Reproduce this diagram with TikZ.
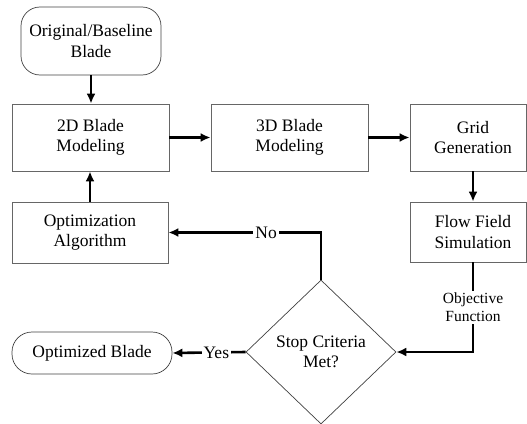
\documentclass[tikz,border=0pt]{standalone}
\usepackage{fontspec}
\setmainfont{Liberation Serif}
\usetikzlibrary{shapes.geometric,arrows.meta}
\begin{document}
\begin{tikzpicture}[x=1pt,y=-1pt,
  every node/.style={font=\fontsize{17.5}{20.5}\selectfont, align=center},
  box/.style={draw=black!60, line width=0.8pt, rectangle, inner sep=0pt},
  term/.style={draw=black!75, line width=0.7pt, rounded corners=19pt, inner sep=0pt},
  dec/.style={draw=black!75, line width=0.7pt, diamond, inner sep=0pt, minimum width=150pt, minimum height=144pt},
  flow/.style={line width=2.6pt, -{Latex[length=10pt,width=9pt]}},
  lbl/.style={fill=white, inner sep=2pt}
]
\useasboundingbox (0,0) rectangle (527,423);
\node[term, minimum width=140pt, minimum height=68pt] (orig) at (91,41) {Original/Baseline\\Blade};
\node[box, minimum width=157pt, minimum height=67pt] (m2d) at (90.5,137.5) {2D Blade\\Modeling};
\node[box, minimum width=157pt, minimum height=67pt] (m3d) at (289.5,137.5) {3D Blade\\Modeling};
\node[box, minimum width=116pt, minimum height=67pt] (grid) at (468,137.5) {\hspace*{10pt}Grid\\\hspace*{10pt}Generation};
\node[box, minimum width=156pt, minimum height=61pt] (opt) at (90,232.5) {Optimization\\Algorithm};
\node[box, minimum width=116pt, minimum height=60pt] (sim) at (468,232) {\hspace*{10pt}Flow Field\\\hspace*{10pt}Simulation};
\node[dec] (stop) at (321,352) {Stop Criteria\\Met?};
\node[term, minimum width=160pt, minimum height=42pt, rounded corners=20pt] (optb) at (92,353) {Optimized Blade};

\draw[flow] (orig.south) -- (orig.south |- m2d.north);
\draw[flow] (m2d.east) -- (m3d.west);
\draw[flow] (m3d.east) -- (grid.west);
\draw[flow] ([xshift=5pt]grid.south) -- ([xshift=5pt]sim.north);
\draw[flow] (opt.north) -- (opt.north |- m2d.south);
\draw[flow] ([xshift=5pt]sim.south) |- (stop.east)
  node[lbl, pos=0.25, font=\fontsize{15.5}{18.5}\selectfont] (objf) {Objective\\Function};
\draw[flow] (stop.north) |- (opt.east) node[lbl, pos=0.68] (no) {No};
\draw[flow] (stop.west) -- (optb.east) node[lbl, pos=0.4] (yes) {Yes};
\end{tikzpicture}
\end{document}
